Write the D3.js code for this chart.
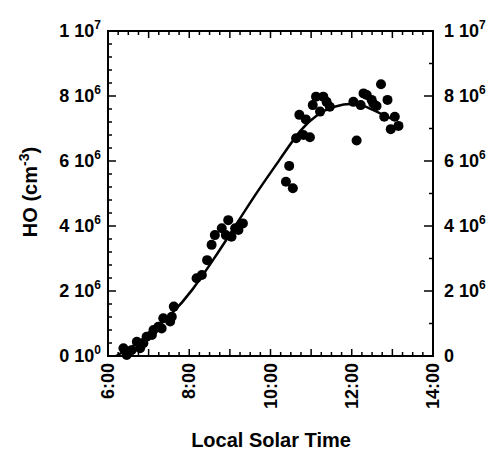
<!DOCTYPE html>
<html>
<head>
<meta charset="utf-8">
<script src="https://cdn.jsdelivr.net/npm/d3@7"></script>
<style>
  body { margin: 0; background: #fff; }
  text { font-family: "Liberation Sans", Arial, sans-serif; font-weight: bold; fill: #000; }
</style>
</head>
<body>
<div class="canvas"></div>
<script>
// measured points: local solar time (decimal hours) and HO (cm-3)
const obsTime = [6.38, 6.46, 6.58, 6.71, 6.79, 6.87, 6.95, 7.08, 7.12, 7.24, 7.32, 7.36, 7.53, 7.57, 7.62,
  8.18, 8.31, 8.44, 8.55, 8.63, 8.80, 8.96, 8.90, 9.04, 9.13, 9.21, 9.32,
  10.38, 10.46, 10.55, 10.63, 10.71, 10.81, 10.87, 10.97, 11.04, 11.12, 11.22, 11.30, 11.38, 11.46,
  12.04, 12.12, 12.22, 12.29, 12.37, 12.49, 12.53, 12.61, 12.72, 12.80, 12.88, 12.96, 13.06, 13.15];
const obsHO = [0.24e6, 0.03e6, 0.18e6, 0.44e6, 0.24e6, 0.39e6, 0.59e6, 0.65e6, 0.80e6, 0.90e6, 0.85e6, 1.16e6, 1.06e6, 1.21e6, 1.52e6,
  2.39e6, 2.49e6, 2.95e6, 3.42e6, 3.72e6, 3.93e6, 4.18e6, 3.72e6, 3.67e6, 3.93e6, 3.88e6, 4.08e6,
  5.36e6, 5.85e6, 5.16e6, 6.70e6, 7.42e6, 6.80e6, 7.28e6, 6.73e6, 7.72e6, 7.98e6, 7.52e6, 7.98e6, 7.82e6, 7.67e6,
  7.82e6, 6.63e6, 7.72e6, 8.08e6, 8.03e6, 7.88e6, 7.77e6, 7.69e6, 8.36e6, 7.36e6, 7.88e6, 6.98e6, 7.36e6, 7.08e6];

// fitted curve
const fitTime = [6.2, 6.6, 7.0, 7.57, 8.08, 8.6, 9.08, 9.66, 10.23, 10.73, 11.14, 11.55, 12.04, 12.37, 12.78, 13.05];
const fitHO = [0, 0.3e6, 0.66e6, 1.31e6, 2.05e6, 2.98e6, 3.9e6, 5.02e6, 6.05e6, 6.92e6, 7.4e6, 7.66e6, 7.76e6, 7.66e6, 7.42e6, 7.26e6];

// tick labels
const xTicks = [6, 8, 10, 12, 14];
const xLabels = ['6:00', '8:00', '10:00', '12:00', '14:00'];
const yTicks = [0, 2e6, 4e6, 6e6, 8e6, 1e7];
const yMant = ['0', '2', '4', '6', '8', '1'];
const yExp = ['0', '6', '6', '6', '6', '7'];

const width = 490, height = 455;
const plotLeft = 108, plotRight = 433, plotTop = 31, plotBottom = 356;

const svg = d3.select('.canvas').append('svg')
  .attr('width', width)
  .attr('height', height);

const x = d3.scaleLinear().domain([6, 14]).range([plotLeft, plotRight]);
const y = d3.scaleLinear().domain([0, 1e7]).range([plotBottom, plotTop]);

// ticks inside the frame
const tickGroup = svg.append('g').attr('stroke', '#000').attr('stroke-width', 1.5);
const quarter = d3.range(6, 14.01, 0.25);
quarter.forEach(t => {
  const len = Math.abs(t - Math.round(t)) < 1e-6 ? 7 : 4;
  tickGroup.append('line').attr('x1', x(t)).attr('x2', x(t)).attr('y1', plotBottom).attr('y2', plotBottom - len);
  tickGroup.append('line').attr('x1', x(t)).attr('x2', x(t)).attr('y1', plotTop).attr('y2', plotTop + len);
});
d3.range(0, 1e7 + 1, 4e5).forEach(v => {
  const len = v % 2e6 === 0 ? 8 : 4;
  tickGroup.append('line').attr('x1', plotLeft).attr('x2', plotLeft + len).attr('y1', y(v)).attr('y2', y(v));
});
d3.range(0, 1e7 + 1, 1e6).forEach(v => {
  const len = v % 2e6 === 0 ? 9 : 4;
  tickGroup.append('line').attr('x1', plotRight).attr('x2', plotRight - len).attr('y1', y(v)).attr('y2', y(v));
});

// frame
svg.append('rect')
  .attr('x', plotLeft).attr('y', plotTop)
  .attr('width', plotRight - plotLeft).attr('height', plotBottom - plotTop)
  .attr('fill', 'none').attr('stroke', '#000').attr('stroke-width', 2);

// x tick labels, rotated
xTicks.forEach((t, i) => {
  svg.append('text')
    .attr('transform', `translate(${x(t) + 6}, ${plotBottom + 7}) rotate(-90)`)
    .attr('text-anchor', 'end')
    .attr('font-size', 18)
    .text(xLabels[i]);
});

// y tick labels, left and right
yTicks.forEach((v, i) => {
  const lt = svg.append('text')
    .attr('x', 101).attr('y', y(v) + 6)
    .attr('text-anchor', 'end')
    .attr('font-size', 18);
  lt.append('tspan').text(yMant[i] + ' 10');
  lt.append('tspan').attr('dy', -8).attr('font-size', 12).text(yExp[i]);

  const rt = svg.append('text')
    .attr('x', 444).attr('y', y(v) + 6)
    .attr('font-size', 18);
  if (v === 0) {
    rt.text('0');
  } else {
    rt.append('tspan').text(yMant[i] + ' 10');
    rt.append('tspan').attr('dy', -8).attr('font-size', 12).text(yExp[i]);
  }
});

// axis titles
svg.append('text')
  .attr('x', 271).attr('y', 447)
  .attr('text-anchor', 'middle')
  .attr('font-size', 20)
  .text('Local Solar Time');

const yt = svg.append('text')
  .attr('transform', `translate(37, 192) rotate(-90)`)
  .attr('text-anchor', 'middle')
  .attr('font-size', 20);
yt.append('tspan').text('HO (cm');
yt.append('tspan').attr('dy', -8).attr('font-size', 14).text('-3');
yt.append('tspan').attr('dy', 8).text(')');

// fitted curve
const fit = fitTime.map((t, i) => ({ t, v: fitHO[i] }));
const line = d3.line()
  .x(d => x(d.t))
  .y(d => y(d.v))
  .curve(d3.curveNatural);
svg.append('path')
  .datum(fit)
  .attr('fill', 'none')
  .attr('stroke', '#000')
  .attr('stroke-width', 2.5)
  .attr('d', line);

// observations
const obs = obsTime.map((t, i) => ({ t, v: obsHO[i] }));
svg.append('g').selectAll('circle')
  .data(obs)
  .enter()
  .append('circle')
  .attr('cx', d => x(d.t))
  .attr('cy', d => y(d.v))
  .attr('r', 5)
  .attr('fill', '#000');
</script>
</body>
</html>
